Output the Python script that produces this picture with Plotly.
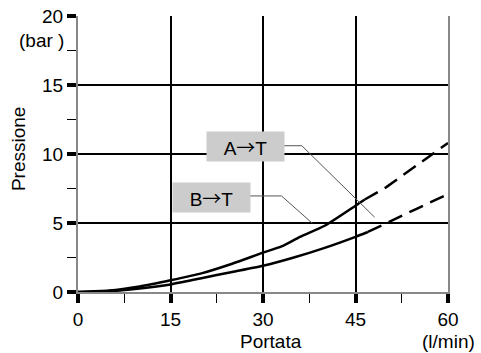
import plotly.graph_objects as go

# Curve A->T (solid part, then dashed extrapolation)
a_x = [0, 5, 10, 15, 20, 25, 30, 33, 36, 40, 45, 46.5]
a_y = [0, 0.1, 0.4, 0.85, 1.35, 2.05, 2.85, 3.3, 4.0, 4.8, 6.25, 6.7]
a_dash_x = [46.5, 50, 55, 60]
a_dash_y = [6.7, 7.6, 9.2, 10.8]

# Curve B->T
b_x = [0, 5, 10, 15, 20, 25, 30, 35, 40, 45, 47]
b_y = [0, 0.05, 0.25, 0.55, 1.0, 1.45, 1.9, 2.5, 3.2, 4.0, 4.35]
b_dash_x = [47, 50, 55, 60]
b_dash_y = [4.35, 5.0, 6.05, 7.1]

# label boxes and their leader lines
labels = ["A→T", "B→T"]
label_x = [27.1, 21.6]
label_y = [10.55, 6.87]
lead_a_x = [33.1, 36.3, 48.1]
lead_a_y = [10.6, 10.6, 5.42]
lead_b_x = [27.3, 33.0, 38.0]
lead_b_y = [6.96, 6.96, 4.98]

font = dict(family="Liberation Sans, Arial, sans-serif", size=19, color="black")
curve = dict(color="black", width=2.5)

fig = go.Figure()
fig.add_trace(go.Scatter(x=a_x, y=a_y, mode="lines", line=dict(**curve, shape="spline", smoothing=0.6)))
fig.add_trace(go.Scatter(x=a_dash_x, y=a_dash_y, mode="lines", line=dict(**curve, dash="15px,8px")))
fig.add_trace(go.Scatter(x=b_x, y=b_y, mode="lines", line=dict(**curve, shape="spline", smoothing=0.6)))
fig.add_trace(go.Scatter(x=b_dash_x, y=b_dash_y, mode="lines", line=dict(**curve, dash="15px,8px")))
fig.add_trace(go.Scatter(x=lead_a_x, y=lead_a_y, mode="lines", line=dict(color="#555555", width=1)))
fig.add_trace(go.Scatter(x=lead_b_x, y=lead_b_y, mode="lines", line=dict(color="#555555", width=1)))

for t, x, y in zip(labels, label_x, label_y):
    # wider arrow glyph from the CJK font
    txt = t.replace("→", "<span style='font-family:Noto Sans CJK JP'>→</span>")
    fig.add_annotation(x=x, y=y, text=txt, showarrow=False, bgcolor="#cccccc",
                       width=75, height=27, font=font)

# axis titles placed like the original drawing
titles = [("Pressione", -0.162, 0.518, -90, "center"),
          ("(bar )", -0.1, 0.913, 0, "center"),
          ("Portata", 0.522, -0.179, 0, "center"),
          ("(l/min)", 1.078, -0.179, 0, "right")]
for t, x, y, ang, xa in titles:
    fig.add_annotation(x=x, y=y, xref="paper", yref="paper", text=t, textangle=ang,
                       xanchor=xa, yanchor="middle", showarrow=False, font=font)

axis = dict(showgrid=True, gridcolor="black", gridwidth=2, zeroline=False,
            showline=True, linecolor="#888888", linewidth=2, automargin=False,
            ticks="outside", ticklen=9, tickwidth=4, tickcolor="black",
            tickfont=font, ticklabeloverflow="allow")

fig.update_xaxes(range=[0, 60], tick0=0, dtick=15,
                 minor=dict(dtick=7.5, ticks="outside", ticklen=9, tickwidth=1, tickcolor="black"),
                 **axis)
fig.update_yaxes(range=[0, 20], tick0=0, dtick=5, mirror=True,
                 minor=dict(dtick=2.5, ticks="outside", ticklen=9, tickwidth=1, tickcolor="black"),
                 **axis)

fig.update_layout(width=481, height=353, showlegend=False,
                  margin=dict(l=78, r=33, t=16, b=61),
                  plot_bgcolor="white", paper_bgcolor="white", font=font)

# drop the page's default body margin so the figure fills the window
fig.write_html("out.html", config={"displayModeBar": False},
               post_script="document.body.style.margin='0px';")
